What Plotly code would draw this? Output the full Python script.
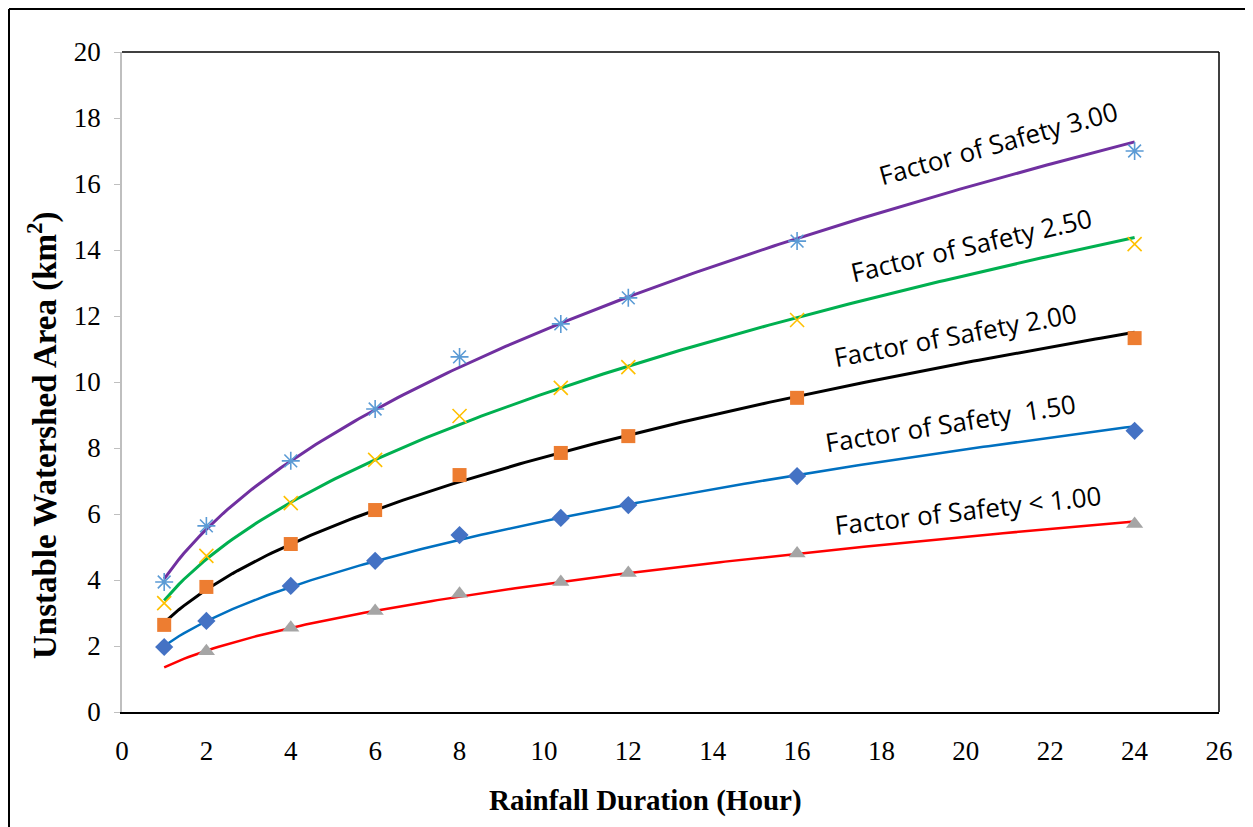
import numpy as np
import plotly.graph_objects as go

# ---- data ----
duration = [1, 2, 4, 6, 8, 10.4, 12, 16, 24]
duration_fs_lt1 = [2, 4, 6, 8, 10.4, 12, 16, 24]
fs_lt1 = [1.84, 2.55, 3.06, 3.58, 3.94, 4.21, 4.80, 5.70]
fs_150 = [1.97, 2.76, 3.82, 4.58, 5.36, 5.88, 6.27, 7.15, 8.52]
fs_200 = [2.64, 3.79, 5.09, 6.12, 7.18, 7.85, 8.36, 9.52, 11.33]
fs_250 = [3.30, 4.73, 6.33, 7.64, 8.97, 9.82, 10.45, 11.88, 14.18]
fs_300 = [3.94, 5.64, 7.61, 9.18, 10.76, 11.76, 12.55, 14.27, 17.00]

labels = ["Factor of Safety < 1.00", "Factor of Safety  1.50", "Factor of Safety 2.00",
          "Factor of Safety 2.50", "Factor of Safety 3.00"]
x_title = "<b>Rainfall Duration (Hour)</b>"
y_title = "<b>Unstable Watershed Area (km<sup>2</sup>)</b>"
x_ticks = list(range(0, 27, 2))
y_ticks = list(range(0, 21, 2))

series = [
    (duration_fs_lt1, fs_lt1, dict(symbol="triangle-up", color="#A5A5A5", size=15), "#FF0000", 2.5),
    (duration, fs_150, dict(symbol="diamond", color="#4472C4", size=14), "#0070C0", 2.5),
    (duration, fs_200, dict(symbol="square", color="#ED7D31", size=14), "#000000", 3),
    (duration, fs_250, dict(symbol="x-thin", color="#FFC000", size=14, line=dict(color="#FFC000", width=1.6)), "#00B050", 3),
    (duration, fs_300, dict(symbol="asterisk-open", color="#5B9BD5", size=15, line=dict(color="#5B9BD5", width=1.6)), "#7030A0", 3),
]

fig = go.Figure()
x_fit = np.linspace(1, 24, 200)
for xs, ys, mk, lc, lw in series:
    # power trendline (as in the spreadsheet) fitted to the data
    b, ln_a = np.polyfit(np.log(xs), np.log(ys), 1)
    fig.add_trace(go.Scatter(x=x_fit, y=np.exp(ln_a) * x_fit ** b, mode="lines",
                             line=dict(color=lc, width=lw), showlegend=False, hoverinfo="skip"))
for xs, ys, mk, lc, lw in series:
    fig.add_trace(go.Scatter(x=xs, y=ys, mode="markers", marker=mk, showlegend=False))

# page-pixel helpers (the page body has an 8px margin)
PL, PT, PW, PH = 122, 52, 1097, 660

def px2x(px):
    return (px - PL) / PW * 26

def px2y(py):
    return (PT + PH - py) / PH * 20

def ppx(px):
    return (px - PL) / PW

def ppy(py):
    return (PT + PH - py) / PH

label_pos = [(968, 510, -6.5), (950, 423, -9), (955, 335, -10.5), (971, 245, -13), (998, 143, -15.5)]
for text, (px, py, ang) in zip(labels, label_pos):
    fig.add_annotation(x=px2x(px), y=px2y(py), text=text, showarrow=False, textangle=ang,
                       xanchor="center", yanchor="middle",
                       font=dict(family="Open Sans", size=26, color="black"))

# axis titles (offset from the plot centre as in the reference)
fig.add_annotation(xref="paper", yref="paper", x=ppx(645), y=ppy(800), text=x_title,
                   showarrow=False, xanchor="center", yanchor="middle",
                   font=dict(family="Liberation Serif", size=29, color="black"))
fig.add_annotation(xref="paper", yref="paper", x=ppx(42), y=ppy(435), text=y_title,
                   showarrow=False, textangle=-90, xanchor="center", yanchor="middle",
                   font=dict(family="Liberation Serif", size=33, color="black"))

# plot-area top and right border (black)
fig.add_shape(type="line", xref="paper", yref="paper", x0=0, x1=1, y0=1, y1=1,
              line=dict(color="black", width=1.5))
fig.add_shape(type="line", xref="paper", yref="paper", x0=1, x1=1, y0=0, y1=1,
              line=dict(color="black", width=1.5))
# outer frame (top and left)
fx0 = ppx(9)
fig.add_shape(type="line", xref="paper", yref="paper", x0=fx0, x1=ppx(1260),
              y0=ppy(9), y1=ppy(9), line=dict(color="black", width=2))
fig.add_shape(type="line", xref="paper", yref="paper", x0=fx0, x1=fx0,
              y0=ppy(840), y1=ppy(9), line=dict(color="black", width=2))

fig.update_layout(
    width=1245, height=819,
    margin=dict(l=114, r=34, t=44, b=115),
    plot_bgcolor="white", paper_bgcolor="white",
    xaxis=dict(range=[0, 26], tickvals=x_ticks, showgrid=False, zeroline=False,
               showline=True, linecolor="black", linewidth=1.5, ticks="",
               ticklabelstandoff=14,
               tickfont=dict(family="Liberation Serif", size=27, color="black")),
    yaxis=dict(range=[0, 20], tickvals=y_ticks, showgrid=False, zeroline=False,
               showline=True, linecolor="#BFBFBF", linewidth=1.5, ticks="outside",
               ticklen=6, tickcolor="#BFBFBF", ticklabelstandoff=8,
               tickfont=dict(family="Liberation Serif", size=27, color="black")),
)

fig.write_html("out.html")
